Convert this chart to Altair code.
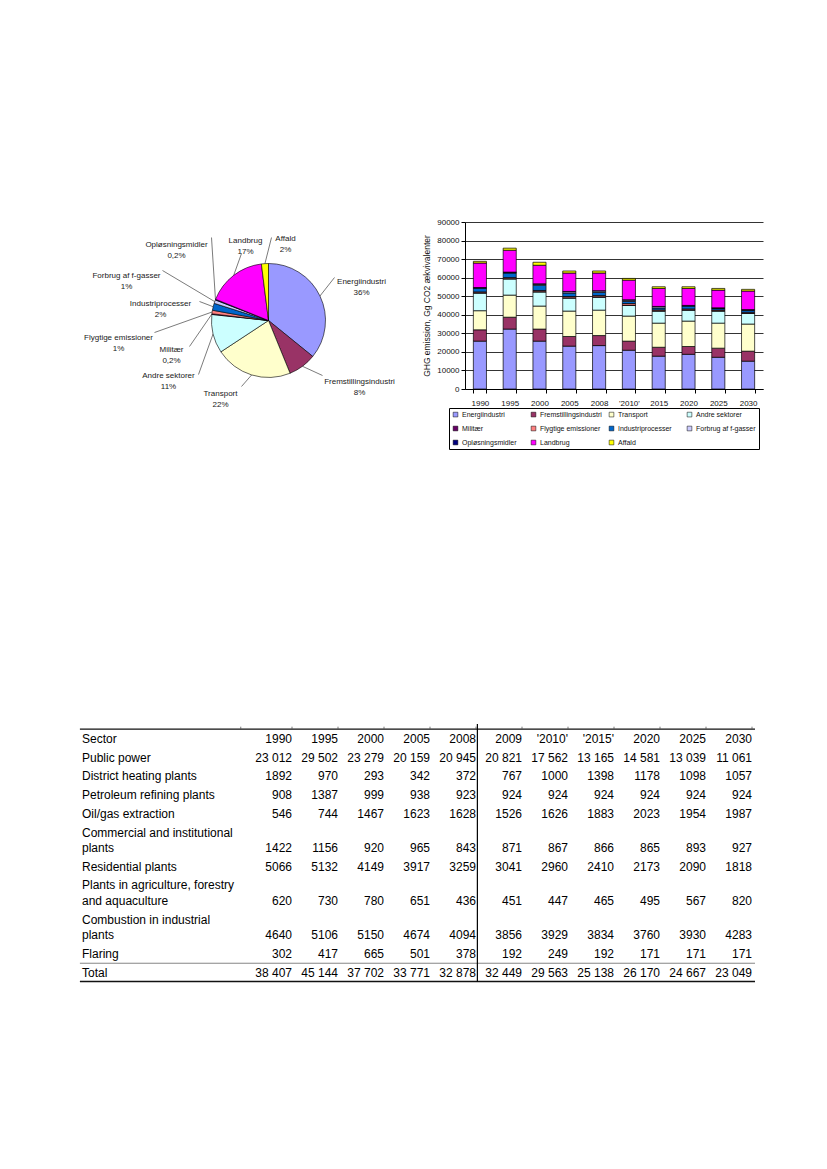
import math
import altair as alt
import pandas as pd

# ---------------- data ----------------
categories = ["Energiindustri", "Fremstillingsindustri", "Transport", "Andre sektorer",
              "Militær", "Flygtige emissioner", "Industriprocesser", "Forbrug af f-gasser",
              "Opløsningsmidler", "Landbrug", "Affald"]
colors = ["#9999FF", "#993366", "#FFFFCC", "#CCFFFF", "#660066", "#FF8080",
          "#0066CC", "#CCCCFF", "#000080", "#FF00FF", "#FFFF00"]

pie_shares = [36, 8, 22, 11, 0.2, 1, 2, 1, 0.2, 17, 2]
pie_share_labels = ["36%", "8%", "22%", "11%", "0,2%", "1%", "2%", "1%", "0,2%", "17%", "2%"]

years = ["1990", "1995", "2000", "2005", "2008", "'2010'", "2015", "2020", "2025", "2030"]
energi = [25800, 32300, 25800, 23100, 23400, 20900, 17700, 18700, 17100, 15000]
fremstilling = [6100, 6400, 6500, 5200, 5400, 4900, 4800, 4200, 4900, 5400]
transport = [10300, 11900, 12400, 13700, 13700, 13500, 13000, 13700, 13500, 14600]
andre = [9500, 8700, 7600, 7000, 7000, 5700, 6500, 5900, 6500, 5700]
militaer = [150, 150, 150, 150, 150, 150, 150, 150, 150, 150]
flygtige = [500, 600, 650, 700, 700, 900, 500, 500, 450, 500]
industri = [2050, 2450, 2800, 1850, 1650, 1100, 1000, 1550, 800, 1000]
forbrug = [100, 300, 600, 700, 800, 750, 700, 200, 200, 300]
oploesning = [200, 200, 200, 200, 200, 200, 150, 150, 150, 150]
landbrug = [13200, 11800, 10000, 9900, 9500, 10600, 9700, 9150, 9550, 10000]
affald = [900, 1100, 1600, 1100, 1100, 900, 900, 900, 900, 900]
series = [energi, fremstilling, transport, andre, militaer, flygtige, industri,
          forbrug, oploesning, landbrug, affald]

table_years = ["1990", "1995", "2000", "2005", "2008", "2009", "'2010'", "'2015'", "2020", "2025", "2030"]
sectors = ["Public power", "District heating plants", "Petroleum refining plants",
           "Oil/gas extraction", "Commercial and institutional\nplants", "Residential plants",
           "Plants in agriculture, forestry\nand aquaculture", "Combustion in industrial\nplants",
           "Flaring", "Total"]
public_power = [23012, 29502, 23279, 20159, 20945, 20821, 17562, 13165, 14581, 13039, 11061]
district_heating = [1892, 970, 293, 342, 372, 767, 1000, 1398, 1178, 1098, 1057]
petroleum = [908, 1387, 999, 938, 923, 924, 924, 924, 924, 924, 924]
oil_gas = [546, 744, 1467, 1623, 1628, 1526, 1626, 1883, 2023, 1954, 1987]
commercial = [1422, 1156, 920, 965, 843, 871, 867, 866, 865, 893, 927]
residential = [5066, 5132, 4149, 3917, 3259, 3041, 2960, 2410, 2173, 2090, 1818]
agriculture = [620, 730, 780, 651, 436, 451, 447, 465, 495, 567, 820]
combustion = [4640, 5106, 5150, 4674, 4094, 3856, 3929, 3834, 3760, 3930, 4283]
flaring = [302, 417, 665, 501, 378, 192, 249, 192, 171, 171, 171]
total = [38407, 45144, 37702, 33771, 32878, 32449, 29563, 25138, 26170, 24667, 23049]
table_values = [public_power, district_heating, petroleum, oil_gas, commercial,
                residential, agriculture, combustion, flaring, total]

FONT = "Liberation Sans"
color_scale = alt.Scale(domain=categories, range=colors)

# ---------------- pie ----------------
R = 57
# label placement (label centre, leader end) relative to the pie centre, px
label_layout = {
    "Energiindustri": ((93, -39), (66, -43)),
    "Fremstillingsindustri": ((91, 61), (54, 55)),
    "Transport": ((-48, 73), (-27, 66)),
    "Andre sektorer": ((-100, 55), (-70, 54)),
    "Militær": ((-97, 29), (-79, 26)),
    "Flygtige emissioner": ((-150, 17), (-114, 12)),
    "Industriprocesser": ((-108, -17), (-69, -19)),
    "Forbrug af f-gasser": ((-142, -45), (-106, -50)),
    "Opløsningsmidler": ((-92, -76), (-57, -83)),
    "Landbrug": ((-23, -80), (-27, -67)),
    "Affald": ((17, -82), (3, -83)),
}
tot = sum(pie_shares)
cum = 0.0
pie_rows, label_rows, leader_rows = [], [], []
for i, (cat, sh, lab) in enumerate(zip(categories, pie_shares, pie_share_labels)):
    mid = (cum + sh / 2) / tot * 2 * math.pi
    cum += sh
    pie_rows.append({"category": cat, "share": sh, "idx": i})
    (lx, ly), (ex, ey) = label_layout[cat]
    label_rows.append({"category": cat, "text": f"{cat}\n{lab}", "x": lx, "y": ly})
    leader_rows.append({"category": cat, "seq": 0, "x": R * math.sin(mid), "y": -R * math.cos(mid)})
    leader_rows.append({"category": cat, "seq": 1, "x": ex, "y": ey})

pie_df = pd.DataFrame(pie_rows)
lab_df = pd.DataFrame(label_rows)
lead_df = pd.DataFrame(leader_rows)

xs = alt.Scale(domain=[-190.5, 149.5], nice=False, zero=False)
ys = alt.Scale(domain=[-98.5, 91.5], nice=False, zero=False, reverse=True)

leaders = alt.Chart(lead_df).mark_line(stroke="#222", strokeWidth=0.6).encode(
    x=alt.X("x:Q", scale=xs, axis=None),
    y=alt.Y("y:Q", scale=ys, axis=None),
    detail="category:N",
    order="seq:Q",
)
arcs = alt.Chart(pie_df).mark_arc(outerRadius=R, stroke="black", strokeWidth=0.6).encode(
    theta=alt.Theta("share:Q", stack=True),
    order=alt.Order("idx:Q", sort="ascending"),
    color=alt.Color("category:N", scale=color_scale, legend=None),
    x=alt.XDatum(0, scale=xs, axis=None),
    y=alt.YDatum(0, scale=ys, axis=None),
)
labels = alt.Chart(lab_df).mark_text(
    lineBreak="\n", fontSize=8, lineHeight=11, align="center", baseline="middle",
    color="#1a1a1a", font=FONT,
).encode(
    x=alt.X("x:Q", scale=xs, axis=None),
    y=alt.Y("y:Q", scale=ys, axis=None),
    text="text:N",
)
pie = alt.layer(leaders, arcs, labels).properties(width=340, height=190)

# ---------------- stacked bars ----------------
bar_rows = []
for i, cat in enumerate(categories):
    for j, yr in enumerate(years):
        bar_rows.append({"year": yr, "category": cat, "value": series[i][j], "idx": i})
bar_df = pd.DataFrame(bar_rows)

bars = alt.Chart(bar_df).mark_bar(stroke="black", strokeWidth=0.7).encode(
    x=alt.X("year:N", sort=years,
            scale=alt.Scale(paddingInner=0.56, paddingOuter=0.28),
            axis=alt.Axis(title=None, labelAngle=0, labelFontSize=8, labelPadding=6,
                          labelColor="#111", labelFont=FONT, tickBand="extent", tickSize=4,
                          tickColor="black", domainColor="black")),
    y=alt.Y("value:Q", stack="zero",
            scale=alt.Scale(domain=[0, 90000], nice=False),
            axis=alt.Axis(values=list(range(0, 90001, 10000)), format="d",
                          title="GHG emission, Gg CO2 ækvivalenter", titleFontSize=8.5,
                          titleFontWeight="normal", titleColor="#111", titleFont=FONT,
                          titlePadding=5, labelFontSize=8, labelColor="#111", labelFont=FONT,
                          labelPadding=2, gridColor="black", gridWidth=0.8,
                          domainColor="black", tickColor="black", tickSize=4)),
    color=alt.Color("category:N", scale=color_scale, sort=categories,
                    legend=alt.Legend(title=None, orient="none", legendX=-16, legendY=186,
                                      columns=4, direction="horizontal",
                                      symbolType="square", symbolSize=22,
                                      symbolStrokeColor="black", symbolStrokeWidth=0.5,
                                      labelFontSize=7, labelColor="#111", labelFont=FONT,
                                      labelOffset=3, strokeColor="black", padding=3,
                                      rowPadding=6, columnPadding=6, gridAlign="all",
                                      labelLimit=200)),
    order=alt.Order("idx:Q", sort="ascending"),
).properties(width=298, height=167)

top_row = alt.hconcat(pie, bars, spacing=4).resolve_scale(color="independent")

# ---------------- table ----------------
def fmt(v):
    return f"{v:,}".replace(",", " ") if v >= 10000 else str(v)

WRAP = 0.83
text_rows, num_rows = [], []
text_rows.append({"x": 0, "y": 0.0, "t": "Sector"})
for c, yr in enumerate(table_years):
    num_rows.append({"x": c + 1, "y": 0.0, "t": yr})
y = 0.0
total_y = 0.0
for name, vals in zip(sectors, table_values):
    lines = name.split("\n")
    first = y + 1
    for k, ln in enumerate(lines):
        text_rows.append({"x": 0, "y": first + k * WRAP, "t": ln})
    y = first + (len(lines) - 1) * WRAP
    for c, v in enumerate(vals):
        num_rows.append({"x": c + 1, "y": y, "t": fmt(v)})
    total_y = y

txt_df = pd.DataFrame(text_rows)
num_df = pd.DataFrame(num_rows)

tx = alt.Scale(domain=[0, 1, 11], range=[4, 214, 674], nice=False, zero=False)
ty = alt.Scale(domain=[-0.91, 13.1], nice=False, zero=False, reverse=True)

hrules_df = pd.DataFrame([
    {"x": -0.01, "x2": 11.065, "y": -0.53, "w": 1.1, "c": "#111"},
    {"x": -0.01, "x2": 11.065, "y": total_y - 0.5, "w": 0.8, "c": "#666"},
    {"x": -0.01, "x2": 11.065, "y": total_y + 0.48, "w": 1.6, "c": "#111"},
])
vrule_df = pd.DataFrame([{"x": 5.03, "y": -0.8, "y2": total_y + 0.48}])
ticks_df = pd.DataFrame([{"x": v, "y": -0.66, "y2": -0.53} for v in [0.756] + list(range(1, 12))])

t_names = alt.Chart(txt_df).mark_text(align="left", baseline="middle", fontSize=12,
                                      font=FONT, color="black").encode(
    x=alt.X("x:Q", scale=tx, axis=None), y=alt.Y("y:Q", scale=ty, axis=None), text="t:N")
t_nums = alt.Chart(num_df).mark_text(align="right", baseline="middle", fontSize=12,
                                     font=FONT, color="black").encode(
    x=alt.X("x:Q", scale=tx, axis=None), y=alt.Y("y:Q", scale=ty, axis=None), text="t:N")
t_hr = alt.Chart(hrules_df).mark_rule().encode(
    x=alt.X("x:Q", scale=tx, axis=None), x2="x2:Q",
    y=alt.Y("y:Q", scale=ty, axis=None),
    strokeWidth=alt.StrokeWidth("w:Q", scale=None),
    color=alt.Color("c:N", scale=None))
t_vr = alt.Chart(vrule_df).mark_rule(color="black", strokeWidth=1.2).encode(
    x=alt.X("x:Q", scale=tx, axis=None),
    y=alt.Y("y:Q", scale=ty, axis=None), y2="y2:Q")
t_ticks = alt.Chart(ticks_df).mark_rule(color="#555", strokeWidth=0.8).encode(
    x=alt.X("x:Q", scale=tx, axis=None),
    y=alt.Y("y:Q", scale=ty, axis=None), y2="y2:Q")
table = alt.layer(t_hr, t_vr, t_ticks, t_names, t_nums).properties(width=680, height=262)

chart = alt.vconcat(top_row, table, spacing=272).properties(
    padding={"left": 70, "top": 210, "right": 5, "bottom": 5}
).configure(font=FONT).configure_view(stroke=None)

chart.save("out.html", embed_options={"renderer": "svg", "actions": False})
